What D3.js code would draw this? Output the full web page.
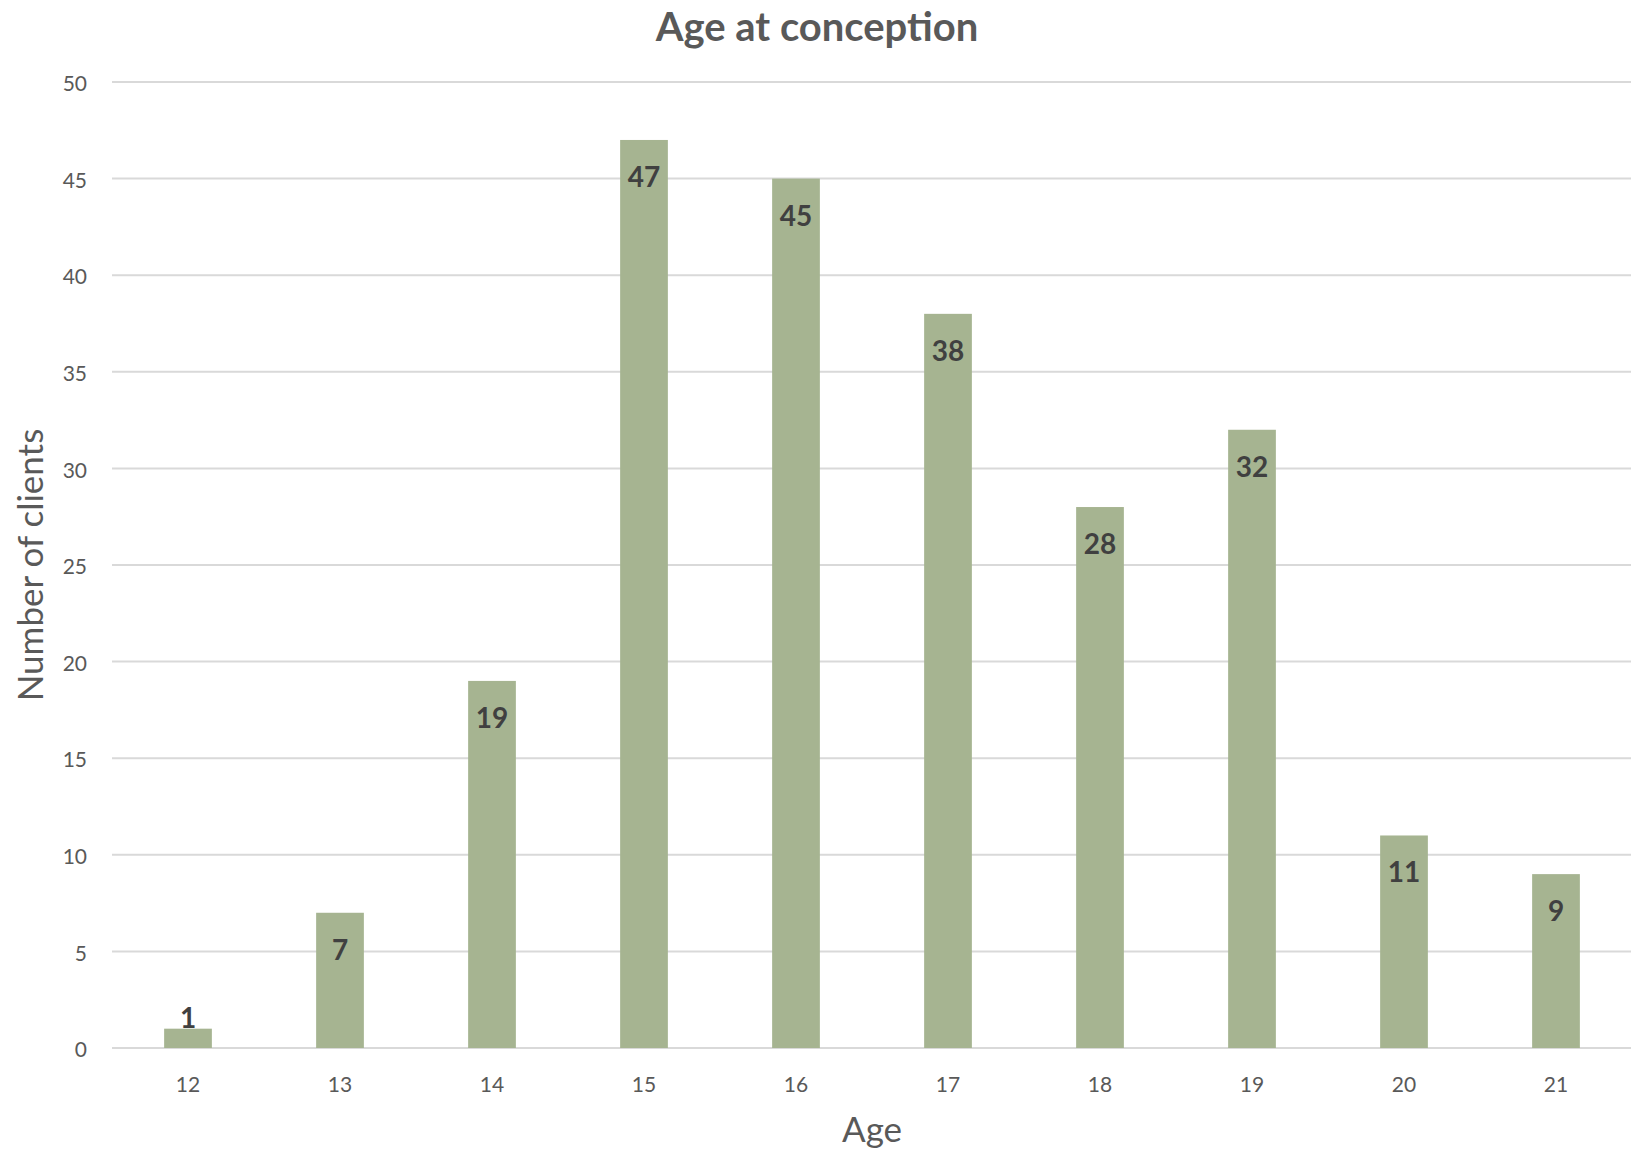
<!DOCTYPE html>
<html><head><meta charset="utf-8">
<script src="https://cdn.jsdelivr.net/npm/d3@7"></script>
<style>html,body{margin:0;padding:0;background:#fff;}</style>
</head><body>
<script>
const categories = ["12","13","14","15","16","17","18","19","20","21"];
const values = [1,7,19,47,45,38,28,32,11,9];
const yTicks = [0,5,10,15,20,25,30,35,40,45,50];
const title = "Age at conception";
const xTitle = "Age";
const yTitle = "Number of clients";

const W = 1631, H = 1153;
const font = "Lato, 'Open Sans', sans-serif";
const svg = d3.select("body").append("svg").attr("width", W).attr("height", H);

const x = d3.scaleBand().domain(categories).range([112, 1632]).paddingInner(0.686).paddingOuter(0.343);
const y = d3.scaleLinear().domain([0, 50]).range([1048, 82]);

// gridlines
svg.append("g").selectAll("line").data(yTicks).join("line")
  .attr("x1", 112).attr("x2", W).attr("y1", d => y(d)).attr("y2", d => y(d))
  .attr("stroke", "#d9d9d9").attr("stroke-width", 2);

// y axis labels
const yAxis = d3.axisLeft(y).tickValues(yTicks).tickSize(0).tickPadding(0);
const gy = svg.append("g").attr("transform", "translate(87,2)").call(yAxis);
gy.select(".domain").remove();
gy.selectAll("text").attr("font-family", font).attr("font-size", 21).attr("fill", "#595959");

// x axis labels
const xAxis = d3.axisBottom(x).tickSize(0).tickPadding(0);
const gx = svg.append("g").attr("transform", "translate(0,1077)").call(xAxis);
gx.select(".domain").remove();
gx.selectAll("text").attr("font-family", font).attr("font-size", 21).attr("fill", "#595959");

// bars
svg.append("g").selectAll("rect").data(values).join("rect")
  .attr("x", (d, i) => x(categories[i]))
  .attr("width", x.bandwidth())
  .attr("y", d => y(d))
  .attr("height", d => y(0) - y(d))
  .attr("fill", "#a6b491");

// data labels
svg.append("g").selectAll("text").data(values).join("text")
  .attr("x", (d, i) => x(categories[i]) + x.bandwidth() / 2)
  .attr("y", d => (y(0) - y(d) > 60) ? y(d) + 47 : y(d) - 1)
  .attr("text-anchor", "middle")
  .attr("font-family", font).attr("font-weight", "bold").attr("font-size", 28)
  .attr("fill", "#404040")
  .text(d => d);

// title
svg.append("text").attr("x", 817).attr("y", 41).attr("text-anchor", "middle")
  .attr("font-family", font).attr("font-weight", "bold").attr("font-size", 40)
  .attr("fill", "#595959").text(title);

// axis titles
svg.append("text").attr("x", 872).attr("y", 1142).attr("text-anchor", "middle")
  .attr("font-family", font).attr("font-size", 35).attr("fill", "#595959").text(xTitle);
svg.append("text").attr("transform", "translate(43,565) rotate(-90)").attr("text-anchor", "middle")
  .attr("font-family", font).attr("font-size", 35).attr("fill", "#595959").text(yTitle);
</script>
</body></html>
